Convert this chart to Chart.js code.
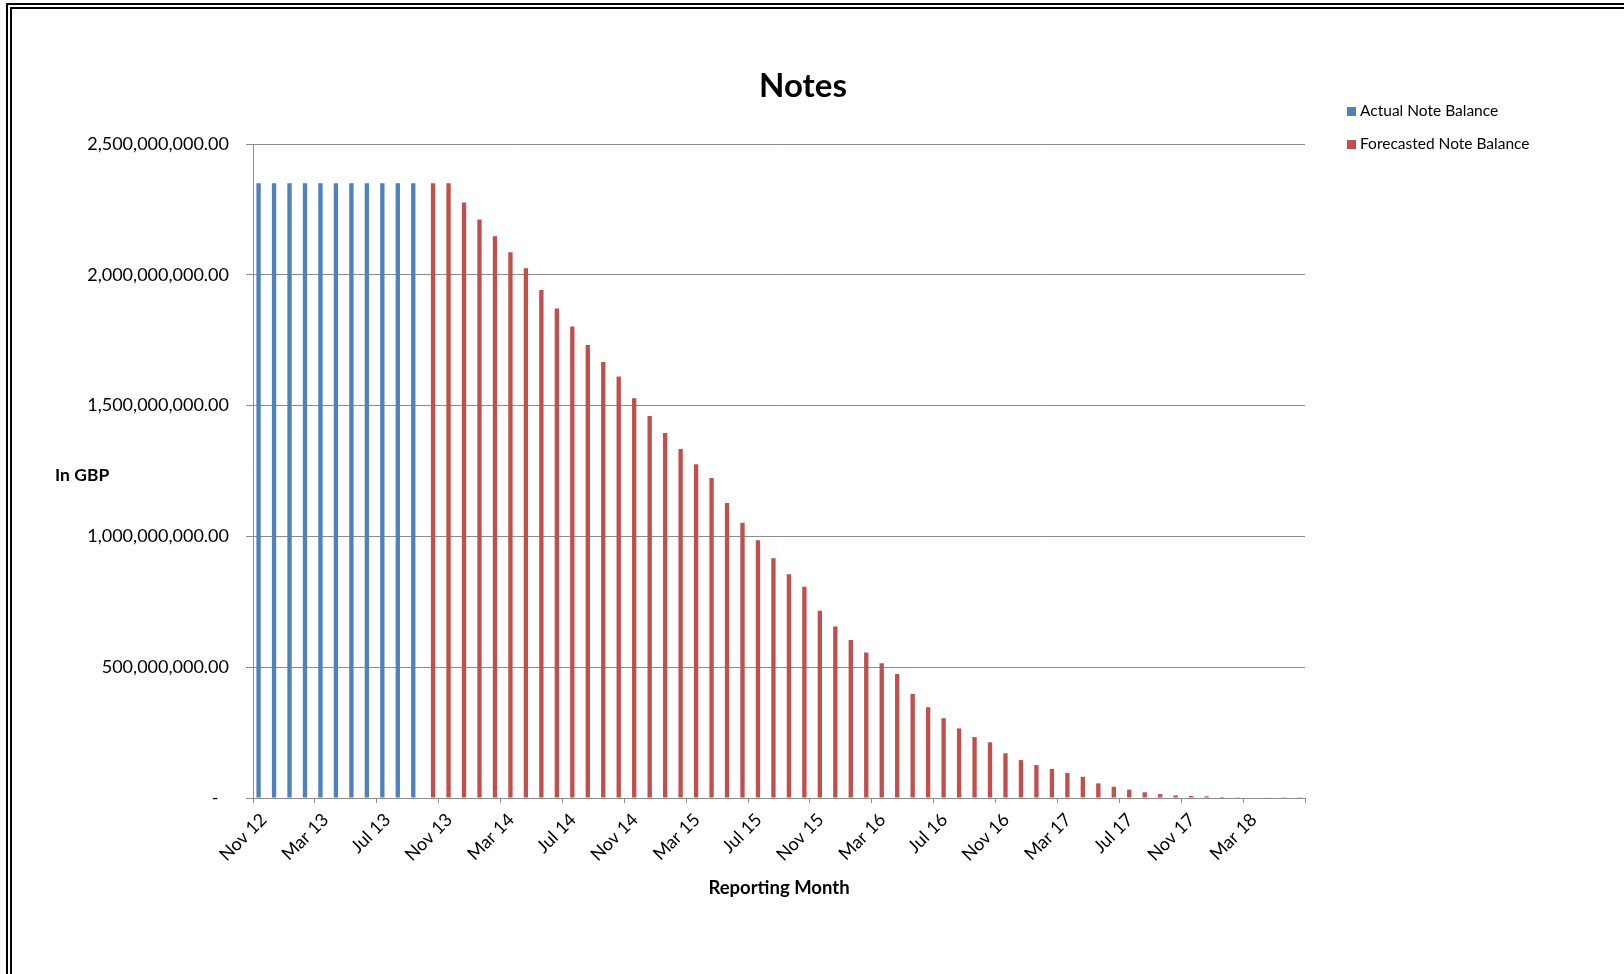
<!DOCTYPE html>
<html>
<head>
<meta charset="utf-8">
<script src="https://cdn.jsdelivr.net/npm/chart.js@4.4.1/dist/chart.umd.min.js"></script>
<style>
  html, body { margin: 0; padding: 0; background: #fff; }
  body { width: 1624px; height: 974px; position: relative; overflow: hidden; font-family: Lato, "Open Sans", sans-serif; color: #000; }
  .frame { position: absolute; left: 6px; top: 3px; width: 1700px; height: 1100px; border-left: 6px double #000; border-top: 6px double #000; }
  .chart-box { position: absolute; left: 0; top: 0; width: 1624px; height: 974px; }
  .title { position: absolute; left: 653px; top: 64px; width: 300px; text-align: center; font-weight: bold; font-size: 33px; line-height: 40px; }
  .y-title { position: absolute; left: 55px; top: 465px; font-weight: bold; font-size: 17.5px; line-height: 20px; }
  .legend { position: absolute; left: 1347px; top: 100px; font-size: 15.5px; }
  .legend .item { height: 20px; line-height: 20px; margin-bottom: 12.7px; white-space: nowrap; }
  .legend .sw { display: inline-block; width: 9px; height: 9px; margin-right: 4px; vertical-align: 0px; }
</style>
</head>
<body>
<div class="frame"></div>
<div class="chart-box"><canvas id="notesChart"></canvas></div>
<div class="title">Notes</div>
<div class="y-title">In GBP</div>
<div class="legend" id="legend"></div>

<script>
// Reporting months, Nov 12 .. Jun 18
const months = [
    'Nov 12', 'Dec 12',
    'Jan 13', 'Feb 13', 'Mar 13', 'Apr 13', 'May 13', 'Jun 13', 'Jul 13', 'Aug 13', 'Sep 13', 'Oct 13', 'Nov 13', 'Dec 13',
    'Jan 14', 'Feb 14', 'Mar 14', 'Apr 14', 'May 14', 'Jun 14', 'Jul 14', 'Aug 14', 'Sep 14', 'Oct 14', 'Nov 14', 'Dec 14',
    'Jan 15', 'Feb 15', 'Mar 15', 'Apr 15', 'May 15', 'Jun 15', 'Jul 15', 'Aug 15', 'Sep 15', 'Oct 15', 'Nov 15', 'Dec 15',
    'Jan 16', 'Feb 16', 'Mar 16', 'Apr 16', 'May 16', 'Jun 16', 'Jul 16', 'Aug 16', 'Sep 16', 'Oct 16', 'Nov 16', 'Dec 16',
    'Jan 17', 'Feb 17', 'Mar 17', 'Apr 17', 'May 17', 'Jun 17', 'Jul 17', 'Aug 17', 'Sep 17', 'Oct 17', 'Nov 17', 'Dec 17',
    'Jan 18', 'Feb 18', 'Mar 18', 'Apr 18', 'May 18', 'Jun 18'
];

// Actual balance, Nov 12 .. Sep 13
const actualBalance = [
    2350000000, 2350000000, 2350000000, 2350000000, 2350000000, 2350000000,
    2350000000, 2350000000, 2350000000, 2350000000, 2350000000
];

// Forecasted balance, Oct 13 .. Jun 18
const forecastBalance = [
    2350000000, 2350000000, 2276000000,
    2211000000, 2147000000, 2086000000, 2025000000, 1942000000, 1871000000,
    1802000000, 1732000000, 1667000000, 1611000000, 1528000000, 1460000000,
    1395000000, 1334000000, 1276000000, 1223000000, 1128000000, 1052000000,
    985000000, 916000000, 855000000, 808000000, 716000000, 656000000,
    604000000, 556000000, 515000000, 474000000, 398000000, 347000000,
    305000000, 266000000, 233000000, 213000000, 171000000, 145000000,
    126000000, 111000000, 96000000, 81000000, 56000000, 43000000,
    32000000, 22000000, 15000000, 10000000, 7600000, 6500000,
    4000000, 3000000, 2000000, 1500000, 1000000, 800000
];

const seriesNames = ['Actual Note Balance', 'Forecasted Note Balance'];
const seriesColors = ['#4F81BD', '#C0504D'];

const yTickLabels = ['-', '500,000,000.00', '1,000,000,000.00', '1,500,000,000.00', '2,000,000,000.00', '2,500,000,000.00'];

// pad each series with gaps so both line up on the month axis
const actualData = months.map((m, i) => i < actualBalance.length ? actualBalance[i] : null);
const forecastData = months.map((m, i) => {
    const j = i - (months.length - forecastBalance.length);
    return j >= 0 ? forecastBalance[j] : null;
});

const gridGray = '#8C8C8C';
const labelFont = { family: 'Lato', size: 18 };

const ctx = document.getElementById('notesChart').getContext('2d');
const notesChart = new Chart(ctx, {
    type: 'bar',
    data: {
        labels: months,
        datasets: [
            { label: seriesNames[0], data: actualData, backgroundColor: seriesColors[0] },
            { label: seriesNames[1], data: forecastData, backgroundColor: seriesColors[1] }
        ]
    },
    options: {
        responsive: true,
        maintainAspectRatio: false,
        animation: false,
        categoryPercentage: 0.56,
        barPercentage: 1.0,
        layout: { padding: { left: 53, right: 319, top: 144, bottom: 75 } },
        plugins: {
            legend: { display: false },
            tooltip: { enabled: false }
        },
        scales: {
            x: {
                offset: true,
                grid: {
                    offset: true,
                    drawOnChartArea: false,
                    tickLength: 5,
                    tickColor: c => (c.index === undefined || c.index % 4 === 0) ? gridGray : 'rgba(0,0,0,0)'
                },
                border: { color: gridGray },
                ticks: {
                    autoSkip: false,
                    minRotation: 45,
                    maxRotation: 45,
                    padding: 6,
                    labelOffset: 3,
                    color: '#000',
                    font: labelFont,
                    callback: function(value, index) {
                        return index % 4 === 0 ? months[index] : '';
                    }
                },
                title: {
                    display: true,
                    text: 'Reporting Month',
                    color: '#000',
                    font: { family: 'Lato', size: 18.5, weight: 'bold' },
                    padding: { top: 4, bottom: 0 }
                },
                afterFit: scale => { scale.height = 101; }
            },
            y: {
                min: 0,
                max: 2500000000,
                grid: { color: gridGray, tickLength: 7 },
                border: { color: gridGray },
                ticks: {
                    stepSize: 500000000,
                    padding: 17,
                    color: '#000',
                    font: labelFont,
                    callback: function(value, index) {
                        return index === 0 ? yTickLabels[0] + '\u2007' : yTickLabels[index];
                    }
                },
                afterFit: scale => { scale.width = 200; }
            }
        }
    }
});

// HTML legend, top right
const legendBox = document.getElementById('legend');
seriesNames.forEach((name, i) => {
    const item = document.createElement('div');
    item.className = 'item';
    item.innerHTML = '<span class="sw" style="background:' + seriesColors[i] + '"></span>' + name;
    legendBox.appendChild(item);
});
</script>
</body>
</html>
